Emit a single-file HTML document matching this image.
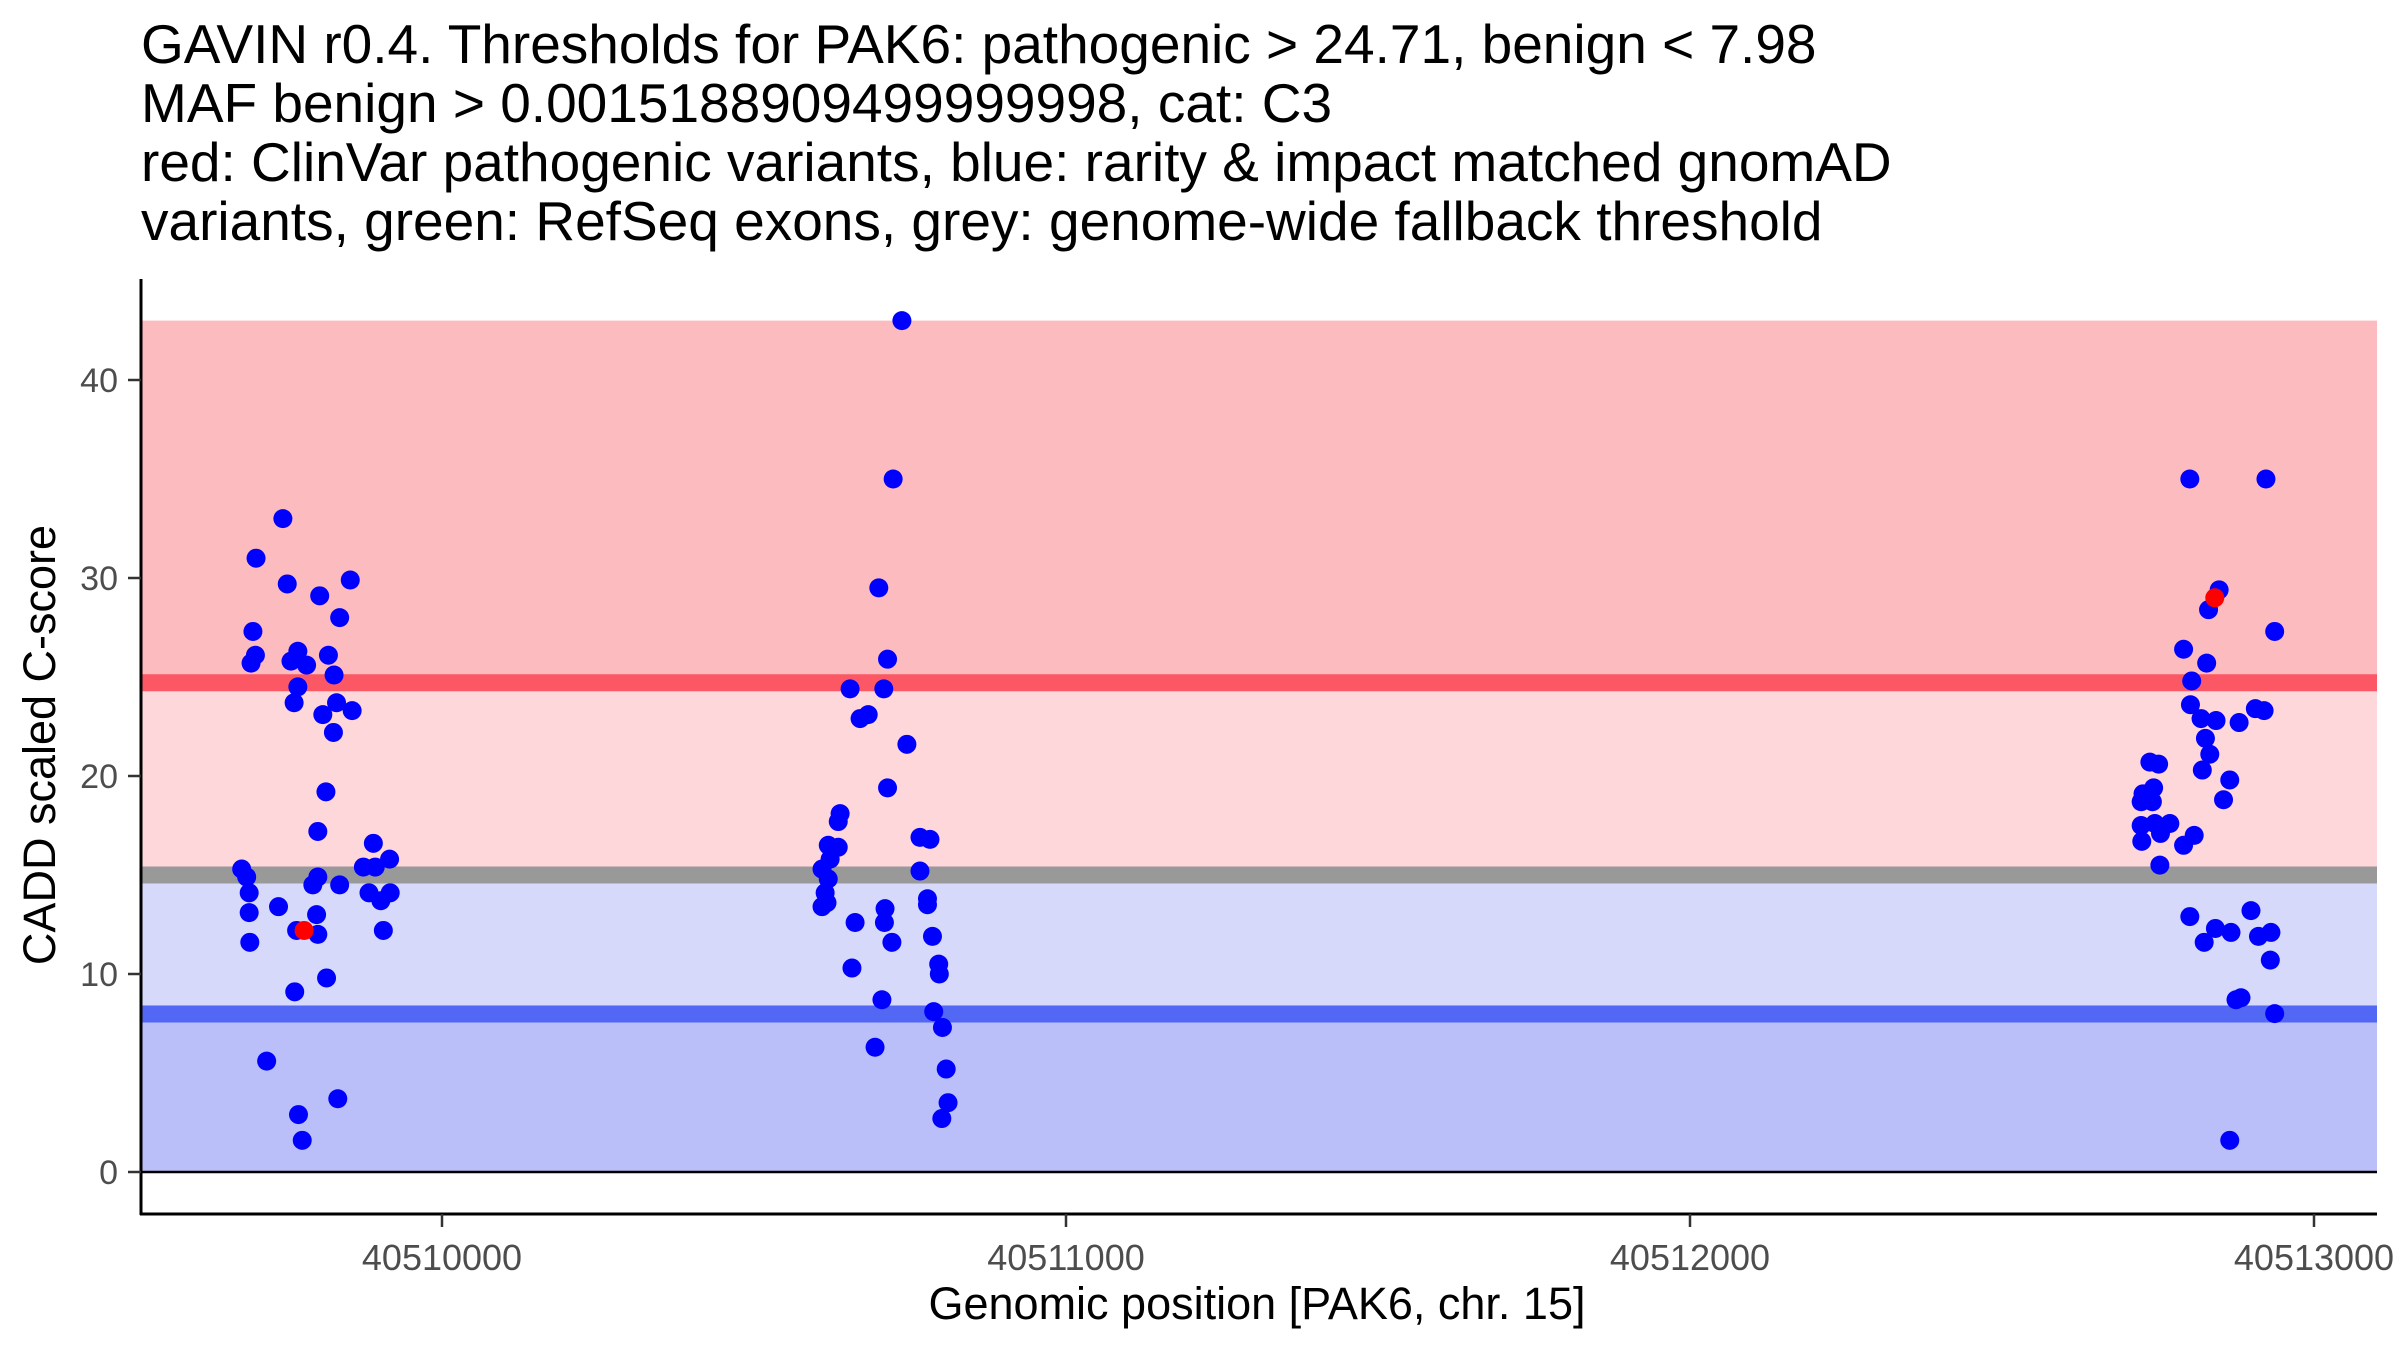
<!DOCTYPE html>
<html><head><meta charset="utf-8"><style>
html,body{margin:0;padding:0;background:#fff;}
svg{display:block;font-family:"Liberation Sans",sans-serif;}
</style></head><body>
<svg id="chart" width="2400" height="1350" viewBox="0 0 2400 1350">
<g font-size="55" fill="#000">
<text x="141" y="63">GAVIN r0.4. Thresholds for PAK6: pathogenic &gt; 24.71, benign &lt; 7.98</text>
<text x="141" y="122">MAF benign &gt; 0.0015188909499999998, cat: C3</text>
<text x="141" y="181">red: ClinVar pathogenic variants, blue: rarity &amp; impact matched gnomAD</text>
<text x="141" y="240">variants, green: RefSeq exons, grey: genome-wide fallback threshold</text>
</g>
<g id="bands"></g>
<g id="points"></g>
<g id="axes"></g>
<text x="1257" y="1319" font-size="45" text-anchor="middle" fill="#000">Genomic position [PAK6, chr. 15]</text>
<text transform="translate(55,745) rotate(-90)" font-size="45" text-anchor="middle" fill="#000">CADD scaled C-score</text>
</svg>
<script>
const bluePos = [40509745,40509702,40509752,40509804,40509853,40509836,40509697,40509701,40509694,40509769,40509758,40509783,40509818,40509827,40509769,40509763,40509831,40509856,40509809,40509826,40509814,40509801,40509890,40509916,40509679,40509687,40509874,40509893,40509801,40509793,40509836,40509691,40509883,40509917,40509902,40509691,40509738,40509799,40509692,40509767,40509801,40509906,40509815,40509764,40509719,40509833,40509770,40509776,
40510737,40510723,40510700,40510714,40510708,40510654,40510670,40510683,40510745,40510714,40510766,40510782,40510766,40510778,40510778,40510710,40510709,40510721,40510786,40510796,40510797,40510705,40510788,40510802,40510694,40510808,40510811,40510801,40510638,40510635,40510619,40510635,40510622,40510609,40510619,40510614,40510609,40510617,40510662,40510657,
40512801,40512923,40512848,40512831,40512937,40512791,40512828,40512804,40512802,40512819,40512843,40512880,40512906,40512920,40512826,40512833,40512821,40512865,40512855,40512737,40512751,40512743,40512726,40512741,40512723,40512723,40512745,40512769,40512754,40512724,40512808,40512791,40512753,40512801,40512899,40512842,40512824,40512867,40512911,40512931,40512930,40512875,40512883,40512937,40512865];
const blueScore = [33.0,31.0,29.7,29.1,29.9,28.0,27.3,26.1,25.7,26.3,25.8,25.6,26.1,25.1,24.5,23.7,23.7,23.3,23.1,22.2,19.2,17.2,16.6,15.8,15.3,14.9,15.4,15.4,14.9,14.5,14.5,14.1,14.1,14.1,13.7,13.1,13.4,13.0,11.6,12.2,12.0,12.2,9.8,9.1,5.6,3.7,2.9,1.6,
43.0,35.0,29.5,25.9,24.4,24.4,22.9,23.1,21.6,19.4,16.9,16.8,15.2,13.8,13.5,13.3,12.6,11.6,11.9,10.5,10.0,8.7,8.1,7.3,6.3,5.2,3.5,2.7,18.1,17.7,16.5,16.4,15.8,15.3,14.8,14.1,13.4,13.6,12.6,10.3,
35.0,35.0,29.4,28.4,27.3,26.4,25.7,24.8,23.6,22.9,22.8,22.7,23.4,23.3,21.9,21.1,20.3,19.8,18.8,20.7,20.6,19.4,19.1,18.7,18.7,17.5,17.6,17.6,17.1,16.7,17.0,16.5,15.5,12.9,13.2,12.3,11.6,12.1,11.9,12.1,10.7,8.7,8.8,8.0,1.6];
const redPos = [40509779,40512841];
const redScore = [12.2,29.0];
const thresholds = [24.71,15.0,7.98]; // pathogenic, fallback, benign
const maxScore = 43;
const yTicks = [0,10,20,30,40];
const xTicks = [40510000,40511000,40512000,40513000];

const NS="http://www.w3.org/2000/svg";
const X0=142, X1=2377;
function xs(p){return 442+(p-40510000)*0.624;}
function ys(v){return 1172-v*19.8;}
function mk(tag,attrs,parent){const e=document.createElementNS(NS,tag);for(const k in attrs)e.setAttribute(k,attrs[k]);parent.appendChild(e);return e;}
const bands=document.getElementById('bands');
function band(v0,v1,fill,name){
 const r=mk('rect',{x:X0,y:ys(v1),width:X1-X0,height:ys(v0)-ys(v1),fill:fill},bands);
 
 
}
band(thresholds[0],maxScore,'#fcbbbf','pathogenic-band');
band(thresholds[1],thresholds[0],'#fed7db','fallback-upper-band');
band(thresholds[2],thresholds[1],'#d7d9fb','fallback-lower-band');
band(0,thresholds[2],'#babff9','benign-band');
function hline(v,color,name,w){
 const l=mk('line',{x1:X0,x2:X1,y1:ys(v),y2:ys(v),stroke:color,'stroke-width':w},bands);
 
 
}
hline(thresholds[0],'#fc5764','pathogenic-threshold-line',17);
hline(thresholds[1],'#999999','fallback-threshold-line',17);
hline(thresholds[2],'#5267f4','benign-threshold-line',17);
hline(0,'#000','zero-line',2.5);

const pts=document.getElementById('points');
for(let i=0;i<bluePos.length;i++){
 const c=mk('ellipse',{cx:xs(bluePos[i]),cy:ys(blueScore[i]),rx:9.5,ry:9.5,fill:'#0000ff'},pts);
 
 
}
for(let i=0;i<redPos.length;i++){
 const c=mk('ellipse',{cx:xs(redPos[i]),cy:ys(redScore[i]),rx:9.5,ry:9.5,fill:'#ff0000'},pts);
 
 
}

const ax=document.getElementById('axes');
const ya=mk('line',{x1:141,x2:141,y1:279,y2:1215,stroke:'#000','stroke-width':3},ax);


const xa=mk('line',{x1:140,x2:X1,y1:1214,y2:1214,stroke:'#000','stroke-width':3},ax);


yTicks.forEach(v=>{
 const t=mk('line',{x1:128,x2:141,y1:ys(v),y2:ys(v),stroke:'#333','stroke-width':2.5},ax);
 
 
 const l=mk('text',{x:118,y:ys(v)+12,'font-size':34,'text-anchor':'end',fill:'#4d4d4d'},ax);
 l.textContent=v;
 
 
});
xTicks.forEach(p=>{
 const t=mk('line',{x1:xs(p),x2:xs(p),y1:1214,y2:1227,stroke:'#333','stroke-width':2.5},ax);
 
 
 const l=mk('text',{x:xs(p),y:1270,'font-size':36,'text-anchor':'middle',fill:'#4d4d4d'},ax);
 l.textContent=p;
 
 
});
</script>
</body></html>
